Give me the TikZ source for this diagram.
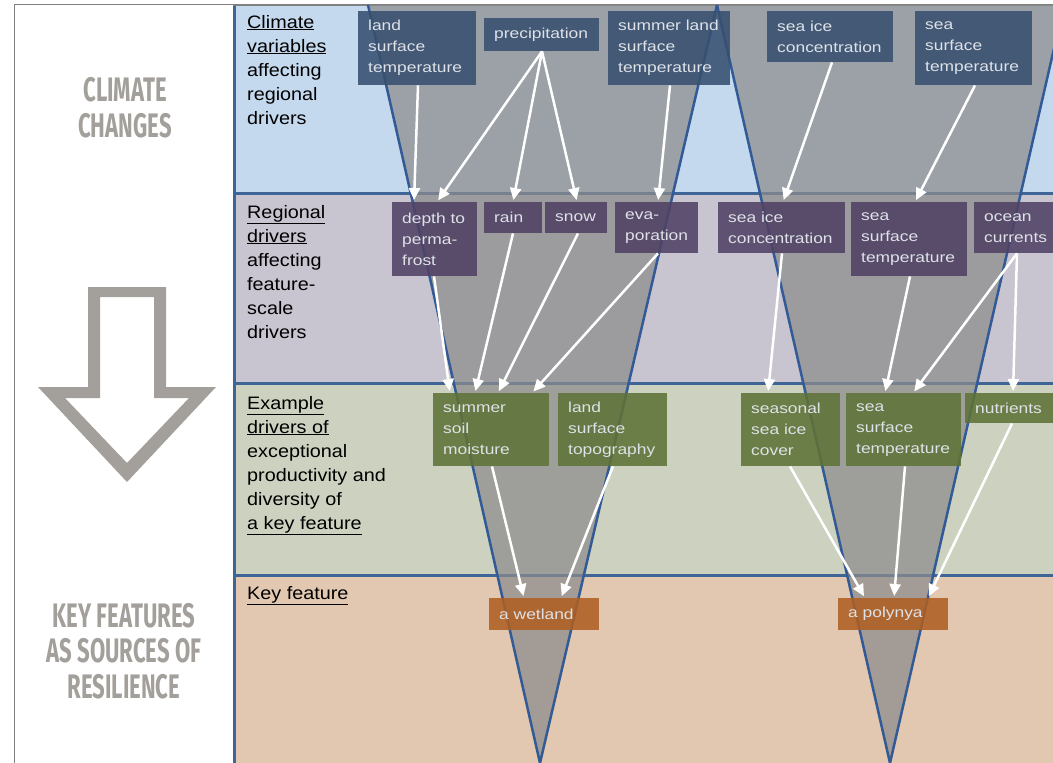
\documentclass[tikz,border=0pt]{standalone}
\usepackage{fontspec}
\setmainfont{Liberation Sans}
\newfontfamily\boxfont[FakeStretch=1.2]{Liberation Sans}
\newfontfamily\lblfont[FakeStretch=1.1]{Liberation Sans}
\newfontfamily\capsfont[FakeStretch=0.65]{Fira Sans}
\usetikzlibrary{arrows.meta}
\hyphenpenalty=10000
\exhyphenpenalty=10000
\definecolor{bandA}{RGB}{197,217,238}
\definecolor{bandB}{RGB}{200,196,208}
\definecolor{bandC}{RGB}{205,210,192}
\definecolor{bandD}{RGB}{226,199,177}
\definecolor{sepcol}{RGB}{63,100,150}
\definecolor{funline}{RGB}{50,90,150}
\definecolor{funfill}{RGB}{140,140,140}
\definecolor{boxA}{RGB}{55,80,112}
\definecolor{boxB}{RGB}{80,66,100}
\definecolor{boxC}{RGB}{95,115,55}
\definecolor{boxD}{RGB}{175,95,35}
\definecolor{boxtext}{RGB}{222,226,232}
\definecolor{capgray}{RGB}{163,160,155}
\definecolor{framegray}{RGB}{128,128,128}
\begin{document}
\begin{tikzpicture}[x=1pt,y=-1pt,
  bx/.style={anchor=north west, inner xsep=10pt, inner ysep=0pt, align=left,
    font=\boxfont\fontsize{14.5}{21}\selectfont, text=boxtext, fill opacity=0.88, text opacity=1},
  bA/.style={bx, fill=boxA},
  bB/.style={bx, fill=boxB},
  bC/.style={bx, fill=boxC},
  bD/.style={bx, fill=boxD},
  lbl/.style={anchor=base west, inner sep=0pt, align=left,
    font=\lblfont\fontsize{18}{24}\selectfont, text=black},
  caps/.style={anchor=base, inner sep=0pt, align=center,
    font=\capsfont\bfseries\fontsize{34}{35.5}\selectfont, text=capgray},
  arr/.style={draw=white, line width=2.5pt, shorten >=2pt,
    -{Triangle[length=12pt,width=11pt]}},
  fun/.style={draw=funline, line width=2.5pt, line join=round}
]
\useasboundingbox (0,0) rectangle (1053,763);
\clip (0,0) rectangle (1053,763);

% left panel
\draw[framegray, line width=1pt, fill=white] (14,4) rectangle (233,770);
\node[caps] (cc) at (125,137) {CLIMATE\\CHANGES};
\node[caps] (kf) at (124,698) {KEY FEATURES\\AS SOURCES OF\\RESILIENCE};
\fill[capgray, even odd rule]
  (88,287) -- (166,287) -- (166,387) -- (216,387) -- (127,482) -- (38,387) -- (88,387) -- cycle
  (100,297) -- (154,297) -- (154,398) -- (189,398) -- (127,463) -- (65,398) -- (100,398) -- cycle;

% bands
\fill[bandA] (234,5) rectangle (1053,193);
\fill[bandB] (234,193) rectangle (1053,383);
\fill[bandC] (234,383) rectangle (1053,575);
\fill[bandD] (234,575) rectangle (1053,763);
\draw[sepcol, line width=3pt] (234,193) -- (1053,193);
\draw[sepcol, line width=3pt] (234,383) -- (1053,383);
\draw[sepcol, line width=3pt] (234,575) -- (1053,575);
\draw[sepcol, line width=3pt] (234.5,5) -- (234.5,770);
\draw[framegray, line width=1.5pt] (233,5) -- (1053,5);

% funnels
\fill[funfill, opacity=0.72] (368,5) -- (717,5) -- (540,763) -- cycle;
\fill[funfill, opacity=0.72] (717,5) -- (1064,5) -- (890,763) -- cycle;
\draw[fun] (368,5) -- (540,763) -- (717,5);
\draw[fun] (717,5) -- (890,763) -- (1064,5);

% band labels (anchored at the baseline of the last line)
\node[lbl] (l1) at (247,124) {\underline{Climate}\\\underline{variables}\\affecting\\regional\\drivers};
\node[lbl] (l2) at (247,338) {\underline{Regional}\\\underline{drivers}\\affecting\\feature-\\scale\\drivers};
\node[lbl] (l3) at (247,529) {\underline{Example}\\\underline{drivers of}\\exceptional\\productivity and\\diversity of\\\underline{a key feature}};
\node[lbl] (l4) at (247,599) {\underline{Key feature}};

% climate variables
\node[bA, minimum width=118pt, minimum height=74pt, text width=98pt] (b1) at (358,11) {land\\surface\\temperature};
\node[bA, minimum width=115pt, minimum height=33pt, text width=95pt] (b2) at (484,18) {precipitation};
\node[bA, minimum width=122pt, minimum height=74pt, text width=102pt] (b3) at (608,11) {summer land\\surface\\temperature};
\node[bA, minimum width=126pt, minimum height=51pt, text width=106pt] (b4) at (767,11) {sea ice\\concentration};
\node[bA, minimum width=117pt, minimum height=74pt, text width=97pt] (b5) at (915,11) {sea\\surface\\temperature};

% regional drivers
\node[bB, minimum width=85pt, minimum height=74pt, text width=65pt] (r1) at (392,202) {depth to\\perma-\\frost};
\node[bB, minimum width=58pt, minimum height=31pt, text width=38pt] (r2) at (484,202) {rain};
\node[bB, minimum width=62pt, minimum height=31pt, text width=42pt] (r3) at (545,202) {snow};
\node[bB, minimum width=83pt, minimum height=51pt, text width=63pt] (r4) at (615,202) {eva-\\poration};
\node[bB, minimum width=127pt, minimum height=51pt, text width=107pt] (r5) at (718,202) {sea ice\\concentration};
\node[bB, minimum width=116pt, minimum height=74pt, text width=96pt] (r6) at (851,202) {sea\\surface\\temperature};
\node[bB, minimum width=95pt, minimum height=51pt, text width=75pt] (r7) at (974,202) {ocean\\currents};

% example drivers
\node[bC, minimum width=116pt, minimum height=73pt, text width=96pt] (g1) at (433,393) {summer\\soil\\moisture};
\node[bC, minimum width=109pt, minimum height=73pt, text width=89pt] (g2) at (558,393) {land\\surface\\topography};
\node[bC, minimum width=99pt, minimum height=73pt, text width=79pt] (g3) at (741,393) {seasonal\\sea ice\\cover};
\node[bC, minimum width=115pt, minimum height=73pt, text width=95pt] (g4) at (846,393) {sea\\surface\\temperature};
\node[bC, minimum width=100pt, minimum height=30pt, text width=80pt] (g5) at (965,393) {nutrients};

% key features
\node[bD, minimum width=110pt, minimum height=32pt, text width=90pt] (k1) at (489,598) {a wetland};
\node[bD, minimum width=110pt, minimum height=32pt, text width=90pt] (k2) at (838,598) {a polynya};

% arrows band 1 -> 2
\draw[arr] ([xshift=60pt]b1.south west) -- ([xshift=22pt]r1.north west);
\draw[arr] ([xshift=58pt]b2.south west) -- ([xshift=45pt]r1.north west);
\draw[arr] ([xshift=58pt]b2.south west) -- ([xshift=29pt]r2.north west);
\draw[arr] ([xshift=58pt]b2.south west) -- ([xshift=32pt]r3.north west);
\draw[arr] ([xshift=62pt]b3.south west) -- ([xshift=43pt]r4.north west);
\draw[arr] ([xshift=65pt]b4.south west) -- ([xshift=65pt]r5.north west);
\draw[arr] ([xshift=60pt]b5.south west) -- ([xshift=64pt]r6.north west);
% arrows band 2 -> 3
\draw[arr] ([xshift=42pt]r1.south west) -- ([xshift=17pt]g1.north west);
\draw[arr] ([xshift=29pt]r2.south west) -- ([xshift=42pt]g1.north west);
\draw[arr] ([xshift=33pt]r3.south west) -- ([xshift=65pt]g1.north west);
\draw[arr] ([xshift=43pt]r4.south west) -- ([xshift=99pt]g1.north west);
\draw[arr] ([xshift=64pt]r5.south west) -- ([xshift=27pt]g3.north west);
\draw[arr] ([xshift=59pt]r6.south west) -- ([xshift=39pt]g4.north west);
\draw[arr] ([xshift=43pt]r7.south west) -- ([xshift=67pt]g4.north west);
\draw[arr] ([xshift=43pt]r7.south west) -- ([xshift=48pt]g5.north west);
% arrows band 3 -> 4
\draw[arr] ([xshift=59pt]g1.south west) -- ([xshift=35pt]k1.north west);
\draw[arr] ([xshift=55pt]g2.south west) -- ([xshift=72pt]k1.north west);
\draw[arr] ([xshift=49pt]g3.south west) -- ([xshift=27pt]k2.north west);
\draw[arr] ([xshift=59pt]g4.south west) -- ([xshift=56pt]k2.north west);
\draw[arr] ([xshift=47pt]g5.south west) -- ([xshift=90pt]k2.north west);
\end{tikzpicture}
\end{document}
